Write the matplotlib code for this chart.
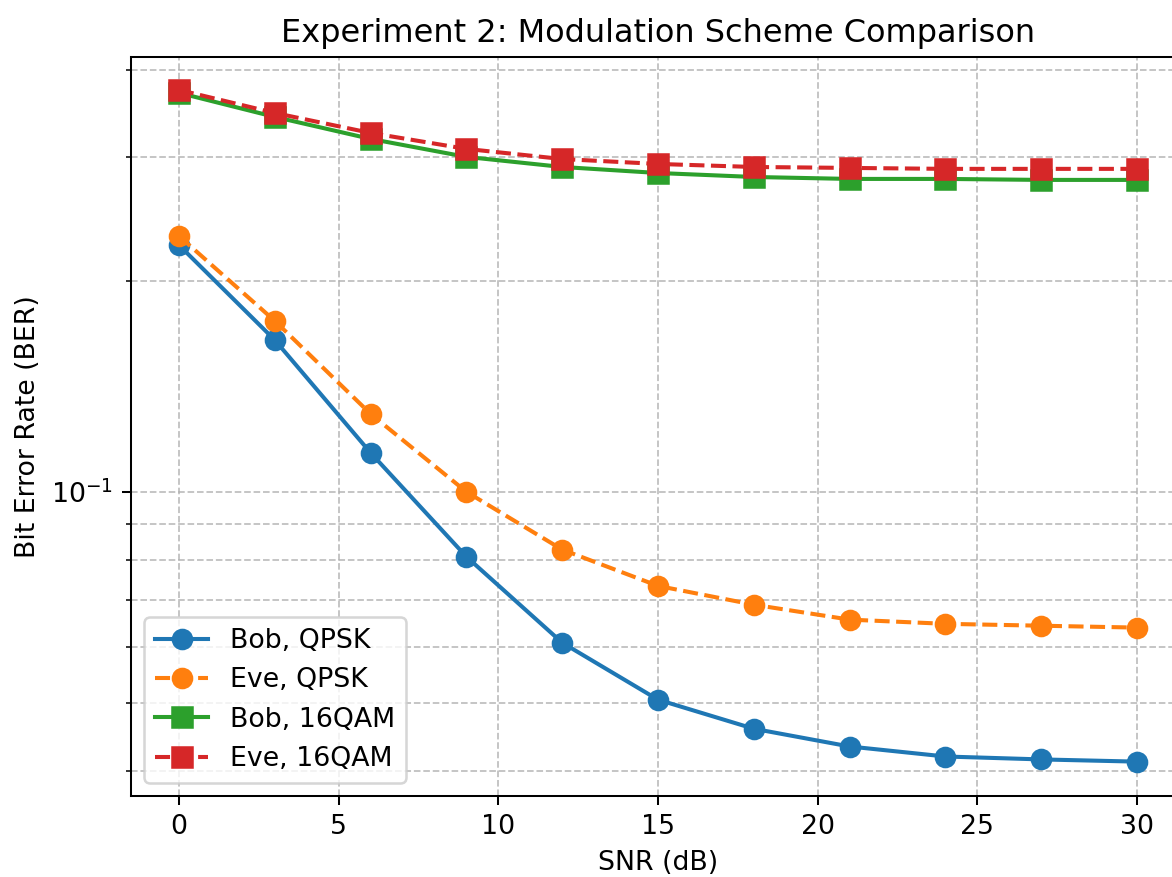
import matplotlib
matplotlib.use("Agg")
import matplotlib.pyplot as plt
from matplotlib.ticker import NullFormatter

# SNR points (dB)
snr = [0, 3, 6, 9, 12, 15, 18, 21, 24, 27, 30]

# BER values
bob_qpsk = [0.225, 0.1647, 0.1137, 0.0808, 0.0609, 0.0505, 0.0459, 0.0433, 0.0419, 0.0415, 0.0412]
eve_qpsk = [0.2318, 0.1754, 0.1292, 0.100, 0.0827, 0.0734, 0.0690, 0.0657, 0.0648, 0.0644, 0.0640]
bob_16qam = [0.371, 0.3428, 0.3189, 0.3006, 0.2908, 0.2851, 0.2814, 0.2796, 0.2796, 0.2787, 0.2787]
eve_16qam = [0.3746, 0.3473, 0.3252, 0.3086, 0.2985, 0.2937, 0.2908, 0.2899, 0.2890, 0.2890, 0.2890]

plt.rcParams["font.size"] = 10.5

fig = plt.figure(figsize=(1172 / 183, 877 / 183), dpi=183)
ax = fig.add_axes([131 / 1172, 81 / 877, (1185 - 131) / 1172, (796 - 57) / 877])

ax.semilogy(snr, bob_qpsk, "o-", color="#1f77b4", lw=1.6, ms=7.5, label="Bob, QPSK")
ax.semilogy(snr, eve_qpsk, "o--", color="#ff7f0e", lw=1.6, ms=7.5, label="Eve, QPSK")
ax.semilogy(snr, bob_16qam, "s-", color="#2ca02c", lw=1.6, ms=7.5, label="Bob, 16QAM")
ax.semilogy(snr, eve_16qam, "s--", color="#d62728", lw=1.6, ms=7.5, label="Eve, 16QAM")

ax.set_xlim(-1.5, 31.5)
ax.set_ylim(0.0368, 0.4174)
ax.yaxis.set_minor_formatter(NullFormatter())

ax.set_title("Experiment 2: Modulation Scheme Comparison", fontsize=12.6)
ax.set_xlabel("SNR (dB)")
ax.set_ylabel("Bit Error Rate (BER)")
ax.grid(True, which="both", linestyle="--", color="#b0b0b0", alpha=0.8, lw=0.7)
ax.legend(loc="lower left")

fig.savefig("out.png", dpi=183)
